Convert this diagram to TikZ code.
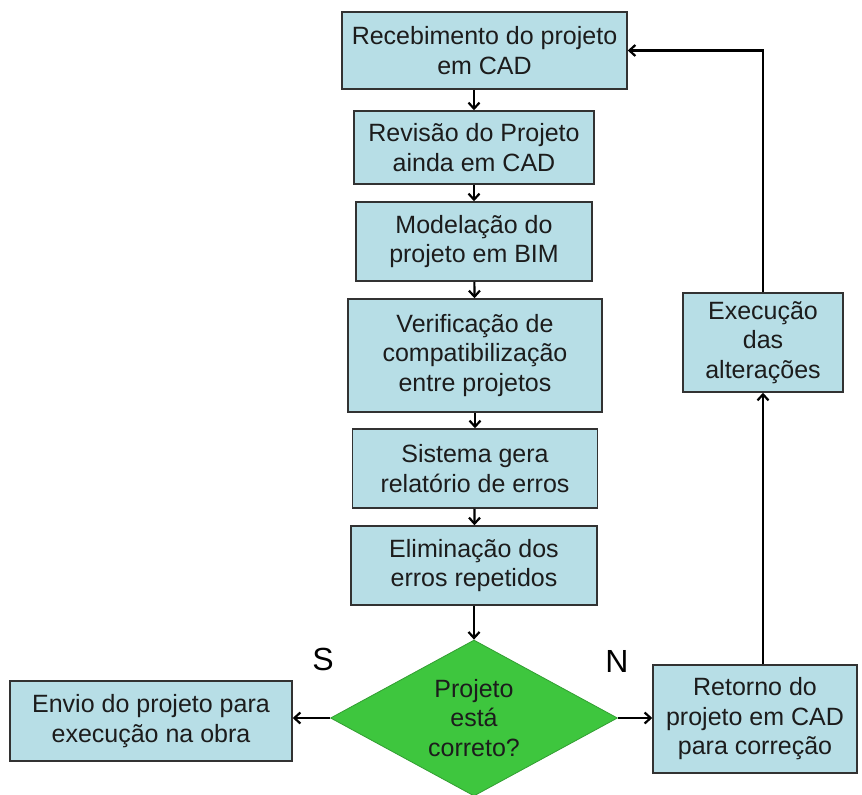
\documentclass[tikz,border=0pt]{standalone}
\usepackage{fontspec}
\setmainfont{Liberation Sans}
\usetikzlibrary{shapes.geometric,arrows.meta}
\definecolor{boxfill}{RGB}{183,222,230}
\definecolor{boxline}{RGB}{50,50,50}
\definecolor{decfill}{RGB}{62,198,62}
\definecolor{txt}{RGB}{28,28,28}

\tikzset{
  box/.style={draw=boxline, fill=boxfill, line width=1.5pt, align=center,
    inner sep=0pt, text=txt, font=\fontsize{25}{29.5}\selectfont},
  decision/.style={diamond, aspect=1.84, draw=decfill!80!black, fill=decfill,
    line width=0.8pt, align=center, inner sep=0pt, text=txt,
    font=\fontsize{25}{29.5}\selectfont},
  answer/.style={text=black, font=\fontsize{32}{32}\selectfont},
  arr/.style={-{Straight Barb[length=6pt,width=11pt]}, line width=2.2pt, black}
}

\begin{document}
\begin{tikzpicture}[x=1pt, y=-1pt]
    \useasboundingbox (0,0) rectangle (862,795);

    \node[box, minimum width=285pt, minimum height=77pt](rec) at (484.5, 50.5) {Recebimento do projeto\\em CAD};
    \node[box, minimum width=240pt, minimum height=73pt](rev) at (474,147.5) {Revisão do Projeto\\ainda em CAD};
    \node[box, minimum width=236pt, minimum height=79pt](mod) at (474,241.5) {Modelação do\\projeto em BIM};
    \node[box, minimum width=254pt, minimum height=113pt](ver) at (475,355.5) {Verificação de\\compatibilização\\entre projetos};
    \node[box, minimum width=245pt, minimum height=79pt](sis) at (475,468.5) {Sistema gera\\relatório de erros};
    \node[box, minimum width=246pt, minimum height=79pt](eli) at (474,565.5) {Eliminação dos\\erros repetidos};
    \node[decision, minimum width=287pt, minimum height=156pt](dec) at (474,718) {Projeto\\está\\correto?};

    \node[box, minimum width=282pt, minimum height=80pt](env) at (151,721) {Envio do projeto para\\execução na obra};
    \node[box, minimum width=204pt, minimum height=108pt](ret) at (755,719) {Retorno do\\projeto em CAD\\para correção};
    \node[box, minimum width=160pt, minimum height=99pt](exe) at (763,342.5) {Execução\\das\\alterações};

    \node[answer](s) at (323,659) {S};
    \node[answer](n) at (617,661) {N};

    \draw[arr](rec.south -| rev.north) -- (rev.north);
    \draw[arr](rev) edge (mod)
              (mod) edge (ver)
              (ver) edge (sis)
              (sis) edge (eli)
              (eli) edge (dec);
    \draw[arr](dec.west) -- (env.east |- dec.west);
    \draw[arr](dec.east) -- (ret.west |- dec.east);
    \draw[arr](ret.north -| exe.south) -- (exe.south);
    \draw[arr](exe.north) |- (rec.east);
\end{tikzpicture}
\end{document}
